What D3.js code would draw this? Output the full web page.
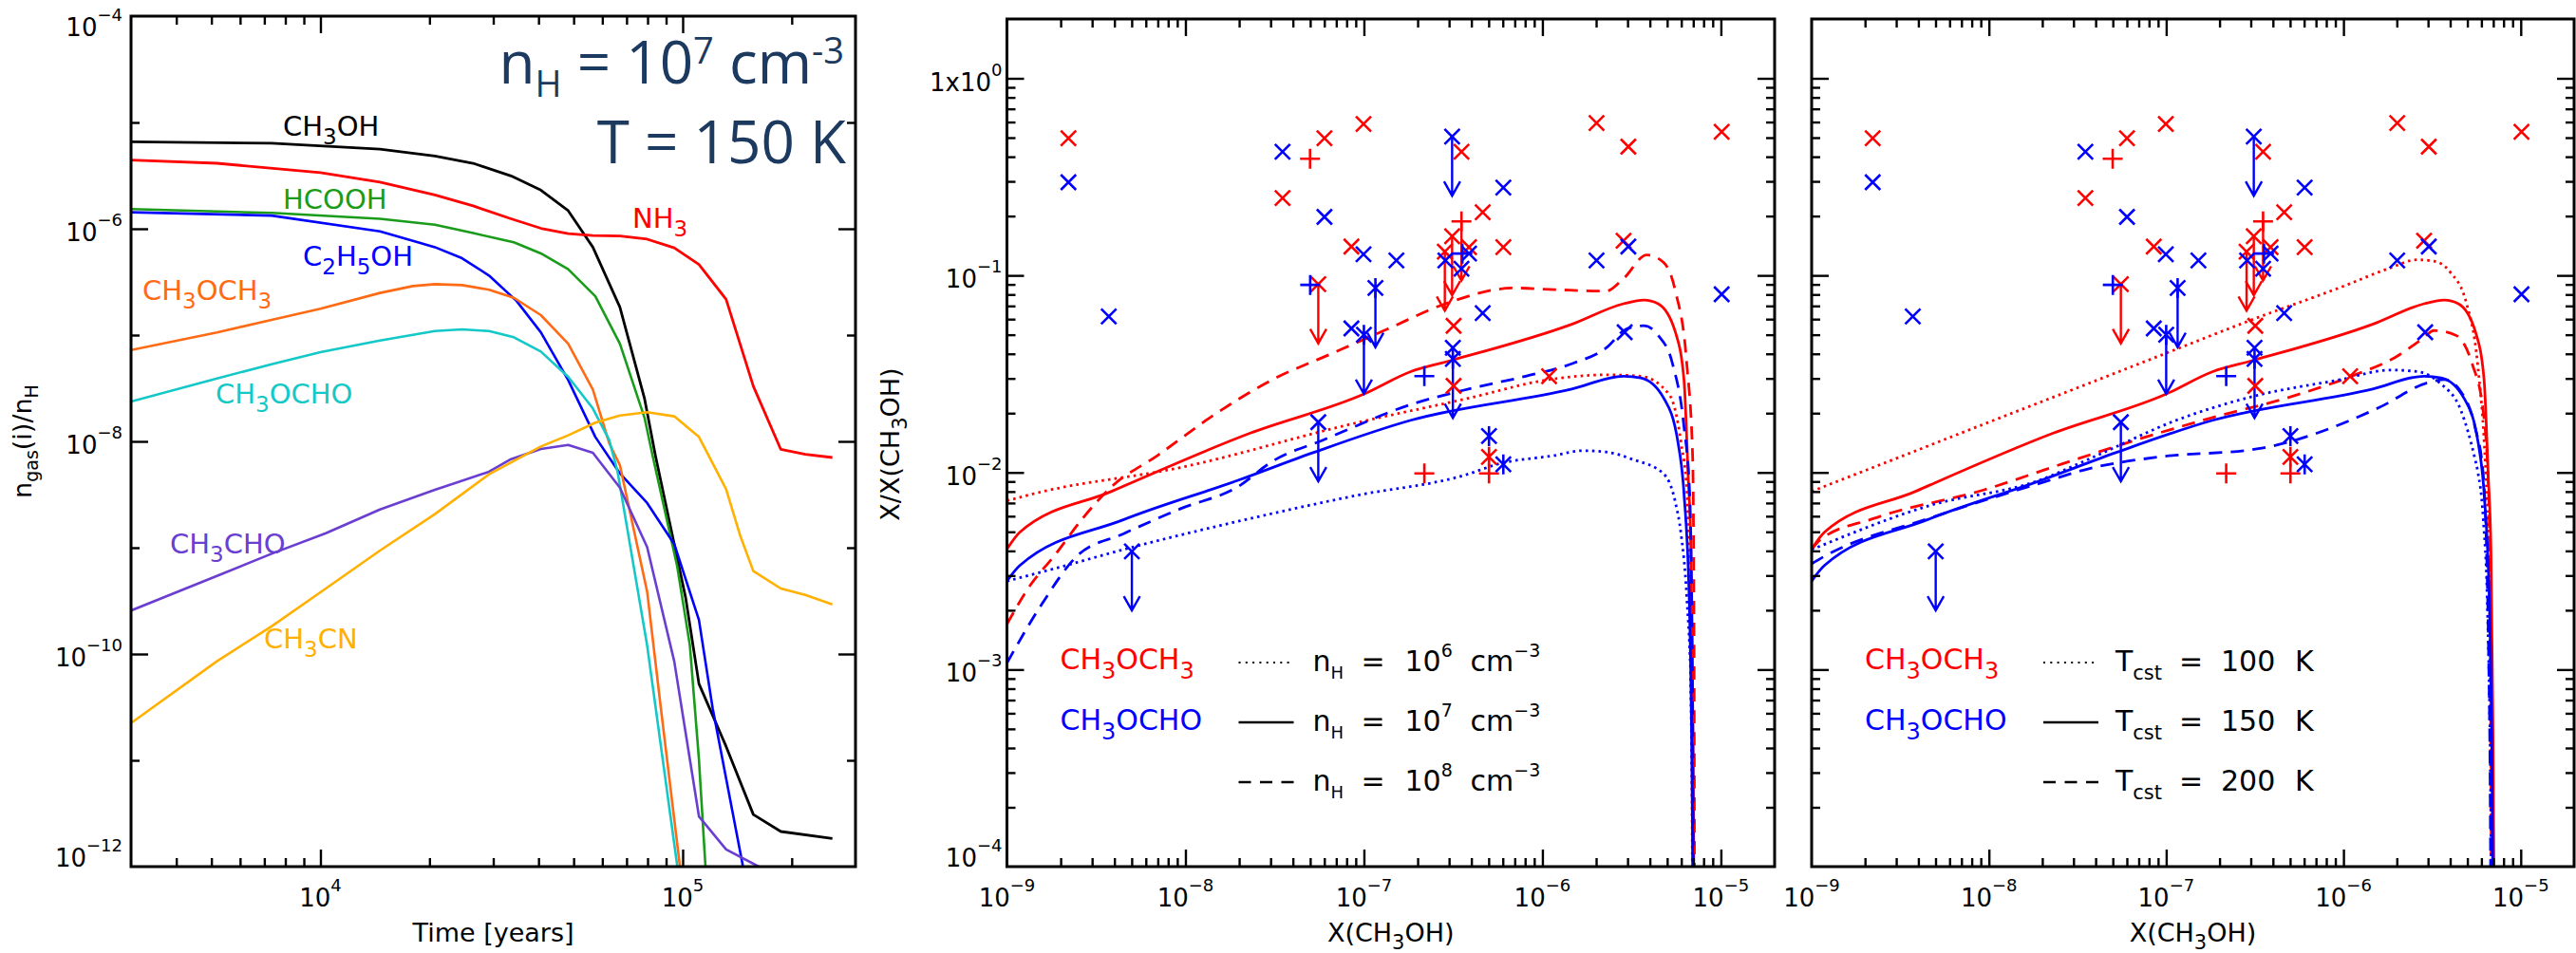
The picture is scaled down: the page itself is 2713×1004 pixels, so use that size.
<!DOCTYPE html>
<html>
<head>
<meta charset="utf-8">
<script src="https://cdn.jsdelivr.net/npm/d3@7"></script>
<style>
  body { margin: 0; background: #fff; }
  svg { display: block; }
</style>
</head>
<body>
<svg id="chart" width="2713" height="1004"></svg>
<script>
// ---------------------------------------------------------------------------
// Panel 1: gas-phase abundances n_gas(i)/n_H versus time (years)
// ---------------------------------------------------------------------------
const ch3ohAbund = [[3.0e3,6.58e-6],[7.33e3,6.37e-6],[1.46e4,5.62e-6],[2.07e4,4.84e-6],[2.64e4,4.13e-6],[3.36e4,3.14e-6],[4.06e4,2.31e-6],[4.83e4,1.48e-6],[5.65e4,6.71e-7],[6.71e4,1.83e-7],[7.85e4,2.51e-8],[8.41e4,7.35e-9],[9.16e4,1.86e-9],[1.019e5,3.39e-10],[1.109e5,5.25e-11],[1.318e5,1.35e-11],[1.567e5,3.09e-12],[1.866e5,2.14e-12],[2.59e5,1.84e-12]];
const nh3Abund = [[3.0e3,4.43e-6],[5.18e3,4.13e-6],[1.0e4,3.37e-6],[1.46e4,2.74e-6],[2.07e4,2.08e-6],[2.64e4,1.64e-6],[3.36e4,1.24e-6],[4.06e4,1.01e-6],[4.83e4,9.0e-7],[5.65e4,8.65e-7],[6.71e4,8.55e-7],[7.98e4,7.98e-7],[9.48e4,6.62e-7],[1.109e5,4.61e-7],[1.318e5,2.17e-7],[1.567e5,3.3e-8],[1.866e5,8.4e-9],[2.18e5,7.55e-9],[2.59e5,7.05e-9]];
const hcoohAbund = [[3.0e3,1.53e-6],[7.33e3,1.41e-6],[1.46e4,1.24e-6],[2.07e4,1.09e-6],[2.64e4,9.1e-7],[3.42e4,7.45e-7],[4.06e4,5.86e-7],[4.83e4,4.16e-7],[5.74e4,2.32e-7],[6.71e4,8.3e-8],[7.85e4,1.66e-8],[8.26e4,7.35e-9],[9.66e4,6.67e-10],[1.047e5,1.2e-10],[1.109e5,1.02e-11],[1.156e5,1.0e-12],[1.17e5,4.0e-13]];
const c2h5ohAbund = [[3.0e3,1.43e-6],[7.33e3,1.33e-6],[1.46e4,9.46e-7],[2.07e4,6.71e-7],[2.46e4,5.28e-7],[2.92e4,3.63e-7],[3.48e4,2.09e-7],[4.06e4,1.06e-7],[4.83e4,3.78e-8],[5.74e4,1.1e-8],[6.71e4,5.0e-9],[7.98e4,2.63e-9],[9.48e4,1.08e-9],[1.109e5,2.09e-10],[1.21e5,3.09e-11],[1.462e5,1.07e-12],[1.5e5,5.0e-13]];
const ch3och3Abund = [[3.0e3,7.24e-8],[5.18e3,1.06e-7],[7.33e3,1.39e-7],[1.0e4,1.77e-7],[1.46e4,2.49e-7],[1.8e4,2.89e-7],[2.07e4,3.01e-7],[2.46e4,2.95e-7],[2.92e4,2.67e-7],[3.42e4,2.24e-7],[4.06e4,1.54e-7],[4.83e4,8.3e-8],[5.65e4,3.08e-8],[6.27e4,9.6e-9],[6.71e4,5.98e-9],[7.98e4,3.85e-10],[8.71e4,3.05e-11],[9.82e4,1.03e-12],[1.0e5,5.0e-13]];
const ch3ochoAbund = [[3.0e3,2.37e-8],[5.18e3,3.91e-8],[7.33e3,5.32e-8],[1.0e4,6.9e-8],[1.46e4,8.89e-8],[2.07e4,1.09e-7],[2.46e4,1.13e-7],[2.92e4,1.09e-7],[3.42e4,9.53e-8],[4.06e4,7.0e-8],[4.83e4,4.05e-8],[5.65e4,2.04e-8],[6.27e4,1.03e-8],[6.61e4,5.21e-9],[7.98e4,1.2e-10],[9.66e4,1.02e-12],[9.8e4,5.0e-13]];
const ch3choAbund = [[3.0e3,2.56e-10],[5.18e3,5.43e-10],[7.33e3,8.77e-10],[1.035e4,1.37e-9],[1.46e4,2.29e-9],[2.07e4,3.5e-9],[2.92e4,5.18e-9],[3.36e4,6.81e-9],[4.06e4,8.49e-9],[4.83e4,9.27e-9],[5.65e4,7.82e-9],[6.71e4,3.67e-9],[7.98e4,1.01e-9],[9.48e4,8.5e-11],[1.109e5,2.97e-12],[1.318e5,1.45e-12],[1.622e5,1.0e-12],[1.7e5,8.0e-13]];
const ch3cnAbund = [[3.0e3,2.24e-11],[5.18e3,8.55e-11],[7.33e3,1.82e-10],[1.035e4,4.13e-10],[1.46e4,9.4e-10],[2.07e4,2.07e-9],[2.92e4,4.9e-9],[4.06e4,8.95e-9],[4.83e4,1.14e-8],[5.74e4,1.5e-8],[6.71e4,1.75e-8],[7.98e4,1.88e-8],[9.48e4,1.72e-8],[1.109e5,1.1e-8],[1.318e5,3.55e-9],[1.439e5,1.32e-9],[1.567e5,6.03e-10],[1.866e5,4.13e-10],[2.18e5,3.6e-10],[2.59e5,2.93e-10]];

const speciesNames = ["CH{_3}OH", "NH{_3}", "HCOOH", "C{_2}H{_5}OH", "CH{_3}OCH{_3}", "CH{_3}OCHO", "CH{_3}CHO", "CH{_3}CN"];
const speciesCurves = [ch3ohAbund, nh3Abund, hcoohAbund, c2h5ohAbund, ch3och3Abund, ch3ochoAbund, ch3choAbund, ch3cnAbund];

const timeTicks = [1e4, 1e5];
const timeTickLabels = ["10{^4}", "10{^5}"];
const abundTicks = [1e-4, 1e-6, 1e-8, 1e-10, 1e-12];
const abundTickLabels = ["10{^\u22124}", "10{^\u22126}", "10{^\u22128}", "10{^\u221210}", "10{^\u221212}"];

// ---------------------------------------------------------------------------
// Panels 2 and 3: X/X(CH3OH) versus X(CH3OH)
// ---------------------------------------------------------------------------
// density grid (T = 150 K)
const dmeN6 = [[1.0e-9,7.18e-3],[1.47e-9,7.87e-3],[9.4e-9,1.06e-2],[8.71e-8,1.77e-2],[3.85e-7,2.38e-2],[1.09e-6,2.96e-2],[2.28e-6,3.13e-2],[3.55e-6,3.08e-2],[5.16e-6,2.47e-2],[5.98e-6,1.42e-2],[6.46e-6,7.87e-3],[6.76e-6,1.0e-3],[6.92e-6,1.0e-4],[6.95e-6,3.0e-5]];
const dmeN7 = [[1.0e-9,4.08e-3],[1.18e-9,4.97e-3],[3.86e-9,8.02e-3],[2.29e-8,1.58e-2],[1.01e-7,2.51e-2],[1.83e-7,3.25e-2],[3.08e-7,3.70e-2],[1.46e-6,5.65e-2],[2.85e-6,7.18e-2],[3.70e-6,7.50e-2],[4.45e-6,7.18e-2],[5.56e-6,5.15e-2],[6.21e-6,2.96e-2],[6.55e-6,9.8e-3],[6.79e-6,4.06e-3],[6.95e-6,6.43e-4],[7.05e-6,1.0e-4],[7.08e-6,3.0e-5]];
const dmeN8 = [[1.0e-9,1.70e-3],[1.36e-9,2.70e-3],[1.84e-9,3.77e-3],[2.66e-9,5.86e-3],[3.86e-9,8.47e-3],[6.98e-9,1.22e-2],[1.47e-8,1.98e-2],[3.08e-8,2.96e-2],[6.47e-8,3.98e-2],[1.36e-7,5.35e-2],[2.86e-7,7.18e-2],[6.95e-7,8.63e-2],[1.17e-6,8.47e-2],[2.28e-6,8.32e-2],[2.85e-6,9.64e-2],[3.84e-6,0.127],[4.79e-6,0.116],[5.56e-6,8.32e-2],[6.44e-6,3.56e-2],[6.95e-6,1.18e-2],[7.08e-6,1.0e-3],[7.11e-6,1.0e-4],[7.12e-6,3.0e-5]];
const mfN6 = [[1.0e-9,2.81e-3],[2.13e-9,3.37e-3],[4.48e-9,4.06e-3],[1.97e-8,5.65e-3],[8.71e-8,7.59e-3],[3.85e-7,9.82e-3],[5.57e-7,1.10e-2],[1.17e-6,1.22e-2],[1.69e-6,1.29e-2],[2.28e-6,1.27e-2],[3.16e-6,1.17e-2],[4.79e-6,9.82e-3],[5.56e-6,7.05e-3],[5.98e-6,4.88e-3],[6.44e-6,2.33e-3],[6.84e-6,6.43e-4],[6.95e-6,1.0e-4],[6.97e-6,3.0e-5]];
const mfN7 = [[1.0e-9,2.81e-3],[1.18e-9,3.37e-3],[4.48e-9,5.75e-3],[1.97e-8,9.12e-3],[5.19e-8,1.26e-2],[1.83e-7,1.84e-2],[1.46e-6,2.65e-2],[2.85e-6,3.08e-2],[3.56e-6,3.02e-2],[4.79e-6,2.38e-2],[5.75e-6,1.42e-2],[6.21e-6,7.87e-3],[6.68e-6,1.94e-3],[6.95e-6,1.0e-4],[6.97e-6,3.0e-5]];
const mfN8 = [[1.0e-9,1.08e-3],[1.58e-9,2.17e-3],[2.47e-9,3.77e-3],[4.48e-9,4.88e-3],[9.4e-9,6.55e-3],[1.97e-8,8.47e-3],[3.08e-8,1.14e-2],[6.01e-8,1.47e-2],[1.83e-7,2.21e-2],[3.85e-7,2.65e-2],[8.07e-7,3.08e-2],[1.46e-6,3.56e-2],[2.28e-6,4.29e-2],[2.96e-6,5.35e-2],[3.70e-6,5.55e-2],[4.45e-6,4.97e-2],[5.36e-6,3.56e-2],[6.21e-6,1.71e-2],[6.68e-6,7.87e-3],[6.92e-6,1.0e-3],[7.0e-6,1.0e-4],[7.01e-6,3.0e-5]];
// temperature grid (n_H = 1e7 cm^-3); 150 K is the same run as dmeN7 / mfN7
const dmeT100 = [[1.0e-9,8.02e-3],[3.16e-9,1.20e-2],[1.0e-8,1.80e-2],[3.16e-8,2.69e-2],[1.0e-7,4.03e-2],[3.16e-7,6.03e-2],[1.0e-6,8.81e-2],[1.78e-6,0.108],[2.61e-6,0.120],[3.24e-6,0.118],[4.0e-6,0.104],[4.95e-6,7.18e-2],[5.71e-6,3.56e-2],[6.35e-6,9.82e-3],[6.59e-6,4.06e-3],[6.82e-6,1.0e-4],[6.84e-6,3.0e-5]];
const dmeT200 = [[1.0e-9,4.06e-3],[1.11e-9,4.53e-3],[2.27e-9,5.86e-3],[9.42e-9,8.17e-3],[2.55e-8,1.10e-2],[7.98e-8,1.53e-2],[1.87e-7,1.91e-2],[4.73e-7,2.38e-2],[1.11e-6,3.08e-2],[1.96e-6,3.84e-2],[2.81e-6,4.79e-2],[3.24e-6,5.25e-2],[4.30e-6,4.97e-2],[5.32e-6,3.56e-2],[6.14e-6,2.05e-2],[6.59e-6,7.87e-3],[6.76e-6,1.0e-3],[6.82e-6,1.0e-4],[6.83e-6,3.0e-5]];
const mfT100 = [[1.0e-9,4.06e-3],[4.62e-9,6.79e-3],[1.92e-8,9.12e-3],[3.91e-8,1.20e-2],[1.14e-7,1.84e-2],[3.31e-7,2.47e-2],[9.64e-7,2.96e-2],[1.83e-6,3.31e-2],[2.61e-6,3.25e-2],[3.47e-6,2.86e-2],[4.61e-6,2.05e-2],[5.51e-6,1.18e-2],[5.71e-6,1.02e-2],[6.14e-6,5.86e-3],[6.50e-6,1.94e-3],[6.82e-6,1.0e-4],[6.83e-6,3.0e-5]];
const mfT200 = [[1.0e-9,3.44e-3],[1.19e-9,3.77e-3],[4.62e-9,5.86e-3],[1.92e-8,8.79e-3],[3.91e-8,1.06e-2],[9.2e-8,1.20e-2],[3.31e-7,1.32e-2],[1.58e-6,2.13e-2],[3.01e-6,2.86e-2],[3.72e-6,2.96e-2],[4.61e-6,2.56e-2],[5.51e-6,1.71e-2],[6.14e-6,9.82e-3],[6.61e-6,1.0e-3],[6.76e-6,1.0e-4],[6.77e-6,3.0e-5]];

// observed sources: [X(CH3OH), ratio, symbol, upper limit]
const obsDME = [
  [2.21e-9,0.497,"x",0],[6.01e-8,0.497,"x",0],[9.95e-8,0.586,"x",0],[3.50e-8,0.247,"x",0],
  [3.52e-7,0.424,"x",0],[2.01e-6,0.593,"x",0],[3.03e-6,0.450,"x",0],[1.01e-5,0.535,"x",0],
  [4.63e-7,0.209,"x",0],[8.51e-8,0.140,"x",0],[3.88e-7,0.139,"x",0],[6.04e-7,0.139,"x",0],
  [2.85e-6,0.150,"x",0],[5.55e-8,0.0902,"x",1],[3.12e-7,0.158,"x",1],[2.84e-7,0.132,"x",1],
  [3.18e-7,0.0555,"x",0],[3.18e-7,0.0275,"x",0],[1.09e-6,0.0308,"x",0],
  [4.99e-8,0.391,"+",0],[3.52e-7,0.188,"+",1],[2.18e-7,0.00989,"+",0],[5.02e-7,0.00989,"+",0],
  [5.02e-7,0.0120,"*",0]
];
const obsMF = [
  [2.21e-9,0.297,"x",0],[3.72e-9,0.0619,"x",0],[3.50e-8,0.424,"x",0],[6.01e-8,0.198,"x",0],
  [9.95e-8,0.128,"x",0],[1.52e-7,0.119,"x",0],[2.86e-7,0.119,"x",0],[3.12e-7,0.506,"x",1],
  [6.04e-7,0.279,"x",0],[3.88e-7,0.129,"x",0],[3.52e-7,0.108,"x",0],[4.63e-7,0.0643,"x",0],
  [2.01e-6,0.119,"x",0],[3.03e-6,0.140,"x",0],[1.01e-5,0.0802,"x",0],[2.89e-6,0.0515,"x",0],
  [8.51e-8,0.0538,"x",0],[3.15e-7,0.0429,"x",0],[5.55e-8,0.0180,"x",1],[5.01e-9,0.00398,"x",1],
  [3.15e-7,0.0377,"*",1],[1.16e-7,0.0863,"*",1],[1.00e-7,0.0500,"*",1],[5.02e-7,0.0153,"*",0],
  [6.04e-7,0.0110,"*",0],
  [5.00e-8,0.0895,"+",0],[2.18e-7,0.0308,"+",0],[3.56e-7,0.129,"+",0]
];

const methanolTicks = [1e-9, 1e-8, 1e-7, 1e-6, 1e-5];
const methanolTickLabels = ["10{^\u22129}", "10{^\u22128}", "10{^\u22127}", "10{^\u22126}", "10{^\u22125}"];
const ratioTicks = [1, 1e-1, 1e-2, 1e-3, 1e-4];
const ratioTickLabels = ["1x10{^0}", "10{^\u22121}", "10{^\u22122}", "10{^\u22123}", "10{^\u22124}"];

const densityLegend = ["10{^6}", "10{^7}", "10{^8}"];
const temperatureLegend = ["100", "150", "200"];

// ---------------------------------------------------------------------------
// drawing
// ---------------------------------------------------------------------------
const FONT = "'DejaVu Sans', 'Liberation Sans', sans-serif";
const RED = "#ff0000", BLUE = "#0000ff";
const speciesColors = ["#000000", "#ff0000", "#1a9c1a", "#0000ff", "#ff6a14", "#14c8c8", "#6a3ed0", "#ffb000"];
const speciesLabelPos = [[298, 143], [666, 240], [298, 220], [319, 280], [150, 316], [227, 425], [179, 583], [278, 683]];

const svg = d3.select("#chart");
svg.append("rect").attr("width", 2713).attr("height", 1004).attr("fill", "#fff");
const defs = svg.append("defs");

// text with {_sub} and {^sup} markup
function rich(sel, str, o) {
  const size = o.size, subSize = o.subSize || size * 0.8, supSize = o.supSize || size * 0.65;
  const subDy = o.subDy != null ? o.subDy : size * 0.3, supDy = o.supDy != null ? o.supDy : size * 0.6;
  const re = /\{([_^])([^}]*)\}|([^{]+)/g;
  let m, shift = 0;
  while ((m = re.exec(str))) {
    if (m[3]) {
      sel.append("tspan").attr("dy", -shift).attr("font-size", size).text(m[3]);
      shift = 0;
    } else {
      const sub = m[1] === "_";
      const d = sub ? subDy : -supDy;
      sel.append("tspan").attr("dy", d - shift).attr("font-size", sub ? subSize : supSize).text(m[2]);
      shift = d;
    }
  }
  return sel;
}
function label(g, x, y, str, o) {
  const t = g.append("text").attr("x", x).attr("y", y)
    .attr("font-family", o.family || FONT).attr("fill", o.fill || "#000")
    .attr("text-anchor", o.anchor || "start").attr("font-size", o.size);
  if (o.transform) t.attr("transform", o.transform);
  return rich(t, str, o);
}

function logTicks(lo, hi) {
  const out = [];
  for (let e = Math.floor(Math.log10(lo)) - 1; e <= Math.ceil(Math.log10(hi)); e++)
    for (let k = 1; k < 10; k++) {
      const v = k * Math.pow(10, e);
      if (v > lo * 1.0001 && v < hi * 0.9999) out.push(v);
    }
  return out;
}
function isDecade(v) { return Math.abs(Math.log10(v) - Math.round(Math.log10(v))) < 1e-6; }

function tickSet(g, scale, orient, pos, values, len) {
  const gen = { bottom: d3.axisBottom, top: d3.axisTop, left: d3.axisLeft, right: d3.axisRight }[orient];
  const axis = gen(scale).tickValues(values).tickSize(-len).tickSizeOuter(0).tickFormat("");
  const tr = (orient === "bottom" || orient === "top") ? `translate(0,${pos})` : `translate(${pos},0)`;
  const a = g.append("g").attr("transform", tr).call(axis);
  a.select(".domain").remove();
  a.selectAll("line").attr("stroke", "#000").attr("stroke-width", 2.4);
}

function frame(g, box, id) {
  defs.append("clipPath").attr("id", id).append("rect")
    .attr("x", box.l).attr("y", box.t).attr("width", box.r - box.l).attr("height", box.b - box.t);
  g.append("rect").attr("x", box.l).attr("y", box.t).attr("width", box.r - box.l).attr("height", box.b - box.t)
    .attr("fill", "none").attr("stroke", "#000").attr("stroke-width", 3);
}

const MAJOR = 18, MINOR = 9;
const TICK = { size: 26, supSize: 18, supDy: 16 };

// ----------------------------- panel 1 -------------------------------------
const P1 = { l: 138, r: 901, t: 17, b: 913 };
const x1 = d3.scaleLog().domain([3e3, 3e5]).range([P1.l, P1.r]);
const y1 = d3.scaleLog().domain([1e-12, 1e-4]).range([P1.b, P1.t]);
const g1 = svg.append("g");

const p1Lines = g1.append("g").attr("clip-path", "url(#clip1)");
const line1 = d3.line().x(d => x1(d[0])).y(d => y1(d[1]));
speciesCurves.forEach((c, i) => {
  p1Lines.append("path").attr("d", line1(c)).attr("fill", "none")
    .attr("stroke", speciesColors[i]).attr("stroke-width", i < 2 ? 2.8 : 2.6).attr("stroke-linejoin", "round");
});
frame(g1, P1, "clip1");

{
  const minorX = logTicks(3e3, 3e5).filter(v => !isDecade(v));
  tickSet(g1, x1, "bottom", P1.b, timeTicks, MAJOR);
  tickSet(g1, x1, "bottom", P1.b, minorX, MINOR);
  tickSet(g1, x1, "top", P1.t, timeTicks, MAJOR);
  tickSet(g1, x1, "top", P1.t, minorX, MINOR);
  const oddDecades = [1e-5, 1e-7, 1e-9, 1e-11];
  tickSet(g1, y1, "left", P1.l, abundTicks.filter(v => v > 1e-12 && v < 1e-4), MAJOR);
  tickSet(g1, y1, "left", P1.l, oddDecades, MINOR);
  tickSet(g1, y1, "right", P1.r, abundTicks.filter(v => v > 1e-12 && v < 1e-4), MAJOR);
  tickSet(g1, y1, "right", P1.r, oddDecades, MINOR);

  abundTicks.forEach((v, i) => {
    const yy = Math.min(Math.max(y1(v) + 13, P1.t + 21), P1.b);
    label(g1, P1.l - 9, yy, abundTickLabels[i], Object.assign({ anchor: "end" }, TICK));
  });
  timeTicks.forEach((v, i) => {
    label(g1, x1(v), 955, timeTickLabels[i], Object.assign({ anchor: "middle" }, TICK));
  });
  label(g1, (P1.l + P1.r) / 2, 992, "Time [years]", { size: 27, anchor: "middle" });
  label(g1, 0, 0, "n{_gas}(i)/n{_H}", { size: 27, subSize: 19, subDy: 7, anchor: "middle",
    transform: "translate(33,465) rotate(-90)" });

  speciesNames.forEach((n, i) => {
    label(g1, speciesLabelPos[i][0], speciesLabelPos[i][1], n,
      { size: 29, subSize: 23, subDy: 9, fill: speciesColors[i] });
  });

  const TITLE = { family: "'Open Sans', 'Noto Sans', sans-serif", fill: "#1c3a60", anchor: "end",
    size: 62, subSize: 38, subDy: 14, supSize: 38, supDy: 21 };
  label(g1, 889, 88, "n{_H} = 10{^7} cm{^-3}", TITLE);
  label(g1, 891, 172, "T = 150 K", TITLE);
}

// ----------------------------- panels 2 & 3 --------------------------------
const DOTTED = "2.6,4.2", DASHED = "14,9";
const ARROW_DEX = 0.3;

function ratioPanel(box, id, withYLabels, curves, legendRows) {
  const g = svg.append("g");
  const x = d3.scaleLog().domain([1e-9, 2e-5]).range([box.l, box.r]);
  const y = d3.scaleLog().domain([1e-4, 2]).range([box.b, box.t]);
  const line = d3.line().x(d => x(d[0])).y(d => y(d[1])).curve(d3.curveMonotoneX);

  const lg = g.append("g").attr("clip-path", `url(#${id})`);
  curves.forEach(c => {
    lg.append("path").attr("d", line(c.data)).attr("fill", "none")
      .attr("stroke", c.color).attr("stroke-width", 2.8)
      .attr("stroke-dasharray", c.dash || null).attr("stroke-linejoin", "round");
  });

  // observations: upper-limit arrows, then symbols
  const obs = obsDME.map(d => ({ d, c: RED })).concat(obsMF.map(d => ({ d, c: BLUE })));
  const og = g.append("g");
  obs.filter(o => o.d[3]).forEach(o => {
    const px = x(o.d[0]), py = y(o.d[1]), tip = y(o.d[1] / Math.pow(10, ARROW_DEX));
    og.append("path")
      .attr("d", `M${px},${py}L${px},${tip}M${px - 8.5},${tip - 15}L${px},${tip}L${px + 8.5},${tip - 15}`)
      .attr("fill", "none").attr("stroke", o.c).attr("stroke-width", 2.4);
  });
  const sym = (s) => {
    const a = 8, b = 10.5;
    const cross = `M${-a},${-a}L${a},${a}M${-a},${a}L${a},${-a}`;
    if (s === "x") return cross;
    if (s === "+") return `M${-b},0L${b},0M0,${-b}L0,${b}`;
    return cross + `M0,${-b}L0,${b}`;
  };
  obs.forEach(o => {
    og.append("path").attr("d", sym(o.d[2]))
      .attr("transform", `translate(${x(o.d[0])},${y(o.d[1])})`)
      .attr("fill", "none").attr("stroke", o.c).attr("stroke-width", 2.6);
  });

  frame(g, box, id);

  const minorX = logTicks(1e-9, 2e-5).filter(v => !isDecade(v));
  const majorX = methanolTicks.filter(v => v > 1e-9);
  tickSet(g, x, "bottom", box.b, majorX, MAJOR);
  tickSet(g, x, "bottom", box.b, minorX, MINOR);
  tickSet(g, x, "top", box.t, majorX, MAJOR);
  tickSet(g, x, "top", box.t, minorX, MINOR);
  const minorY = logTicks(1e-4, 2).filter(v => !isDecade(v));
  const majorY = ratioTicks.filter(v => v > 1e-4);
  tickSet(g, y, "left", box.l, majorY, MAJOR);
  tickSet(g, y, "left", box.l, minorY, MINOR);
  tickSet(g, y, "right", box.r, majorY, MAJOR);
  tickSet(g, y, "right", box.r, minorY, MINOR);

  methanolTicks.forEach((v, i) => {
    label(g, x(v), 955, methanolTickLabels[i], Object.assign({ anchor: "middle" }, TICK));
  });
  label(g, (box.l + box.r) / 2, 992, "X(CH{_3}OH)", { size: 27, subSize: 21, subDy: 8, anchor: "middle" });

  if (withYLabels) {
    ratioTicks.forEach((v, i) => {
      const yy = Math.min(Math.max(y(v) + 13, box.t + 21), box.b);
      label(g, box.l - 5, yy, ratioTickLabels[i], Object.assign({ anchor: "end" }, TICK));
    });
    label(g, 0, 0, "X/X(CH{_3}OH)", { size: 27, subSize: 21, subDy: 8, anchor: "middle",
      transform: `translate(${box.l - 114},468) rotate(-90)` });
  }

  // legend
  const LEG = { size: 30, subSize: 24, subDy: 10 };
  label(g, box.l + 56, 705, "CH{_3}OCH{_3}", Object.assign({ fill: RED }, LEG));
  label(g, box.l + 56, 769, "CH{_3}OCHO", Object.assign({ fill: BLUE }, LEG));
  const sampleDash = [ "2,5.3", null, "13,9.5" ];
  const rowY = [707, 770, 833];
  legendRows.forEach((row, i) => {
    const ly = rowY[i] - 9;
    g.append("line").attr("x1", box.l + 244).attr("x2", box.l + 302).attr("y1", ly).attr("y2", ly)
      .attr("stroke", "#000").attr("stroke-width", i === 0 ? 2 : 2.4)
      .attr("stroke-dasharray", sampleDash[i]);
    row.forEach(p => label(g, box.l + p[0], rowY[i], p[1], p[2]));
  });
  return g;
}

const P2 = { l: 1060.5, r: 1869, t: 20, b: 913 };
const P3 = { l: 1908, r: 2711, t: 20, b: 913 };

const NH = { size: 30, subSize: 18, subDy: 8 };
const NUM = { size: 30, supSize: 19, supDy: 15 };
ratioPanel(P2, "clip2", true, [
  { data: dmeN6, color: RED, dash: DOTTED }, { data: dmeN7, color: RED }, { data: dmeN8, color: RED, dash: DASHED },
  { data: mfN6, color: BLUE, dash: DOTTED }, { data: mfN7, color: BLUE }, { data: mfN8, color: BLUE, dash: DASHED }
], densityLegend.map(v => [
  [322, "n{_H}", NH], [373, "=", NUM], [419, v, NUM], [488, "cm{^\u22123}", NUM]
]));

const TC = { size: 30, subSize: 21, subDy: 9 };
ratioPanel(P3, "clip3", false, [
  { data: dmeT100, color: RED, dash: DOTTED }, { data: dmeN7, color: RED }, { data: dmeT200, color: RED, dash: DASHED },
  { data: mfT100, color: BLUE, dash: DOTTED }, { data: mfN7, color: BLUE }, { data: mfT200, color: BLUE, dash: DASHED }
], temperatureLegend.map(v => [
  [320, "T{_cst}", TC], [387, "=", NUM], [431, v, NUM], [509, "K", NUM]
]));
</script>
</body>
</html>
